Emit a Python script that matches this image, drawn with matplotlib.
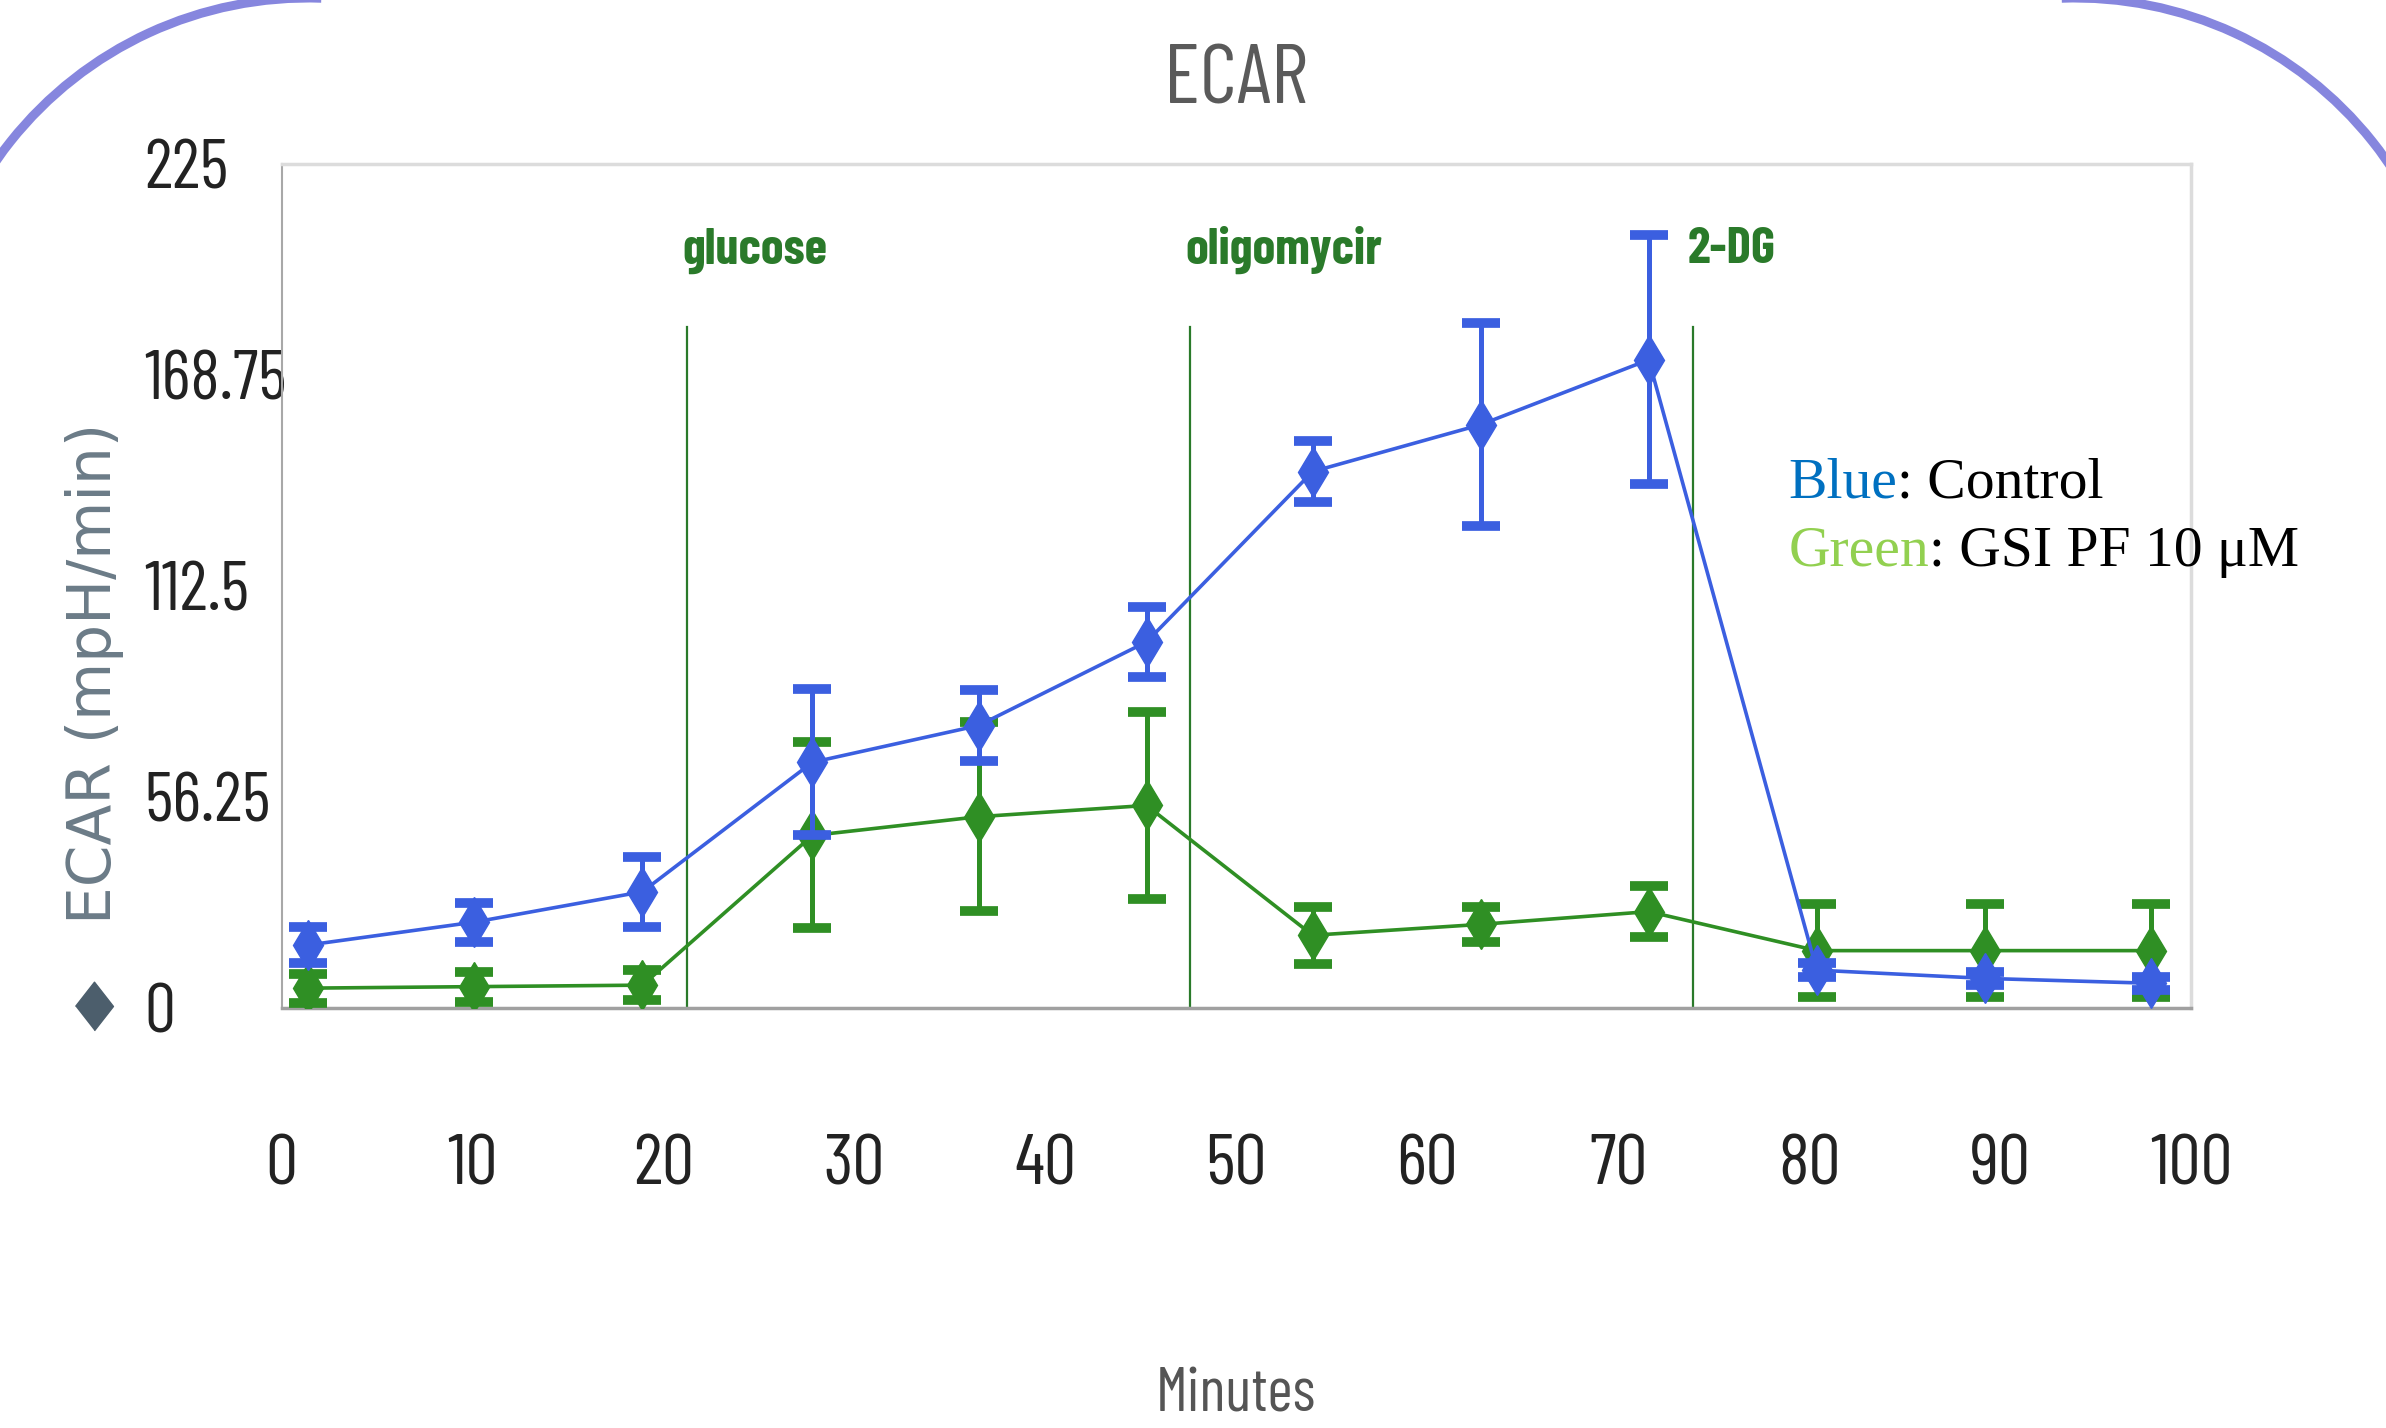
import matplotlib
matplotlib.use("Agg")
import matplotlib.pyplot as plt
from matplotlib.patches import Arc

# ECAR trace, mean +/- error per measurement cycle
minutes = [1.4, 10.1, 18.9, 27.8, 36.5, 45.3, 54.0, 62.8, 71.6, 80.4, 89.2, 97.9]
control = [16.8, 22.9, 31.0, 65.5, 75.3, 97.6, 143.0, 155.5, 172.8, 10.1, 7.9, 6.6]
control_err = [4.8, 5.2, 9.3, 19.5, 9.5, 9.3, 8.2, 27.0, 33.2, 1.8, 1.8, 1.8]
gsi = [5.3, 5.7, 6.1, 46.0, 51.0, 54.0, 19.4, 22.3, 25.7, 15.3, 15.3, 15.3]
gsi_err = [3.9, 4.0, 4.0, 24.8, 25.2, 25.0, 7.6, 4.7, 6.8, 12.4, 12.4, 12.4]

injection_times = [21.25, 47.6, 73.9]
injection_names = ["glucose", "oligomycir", "2-DG"]

x_ticks = [0, 10, 20, 30, 40, 50, 60, 70, 80, 90, 100]
y_ticks = [0, 56.25, 112.5, 168.75, 225]
y_tick_labels = ["0", "56.25", "112.5", "168.75", "225"]

narrow = ["Barlow Condensed", "DejaVu Sans"]
serif = ["Liberation Serif", "DejaVu Serif"]
blue = "#3b5fe0"
green = "#2f8f24"
inj_green = "#2a7a2a"

fig = plt.figure(figsize=(23.86, 14.28), dpi=100)

# rounded frame corners behind everything, in pixel units (y down)
bg = fig.add_axes([0, 0, 1, 1], zorder=-1)
bg.set_xlim(0, 2386)
bg.set_ylim(1428, 0)
bg.axis("off")
bg.add_patch(Arc((308, 378), 760, 760, theta1=165, theta2=272, color="#8686de", lw=6.5))
bg.add_patch(Arc((2075, 378), 760, 760, theta1=268, theta2=375, color="#8686de", lw=6.5))

ax = fig.add_axes([0.118, 0.2941, 0.8003, 0.5911])
ax.set_facecolor("none")

for t in injection_times:
    ax.plot([t, t], [0, 181.5], color=inj_green, lw=1.6, zorder=1)
for t, name in zip(injection_times, injection_names):
    ax.text(t - 0.25, 198.5, name, color=inj_green, fontsize=37,
            fontweight="bold", family=narrow, ha="left", va="baseline")

ax.errorbar(minutes, gsi, yerr=gsi_err, color=green, lw=2.6, marker="d",
            ms=25, elinewidth=3.6, capsize=14, capthick=7, zorder=3)
ax.errorbar(minutes, control, yerr=control_err, color=blue, lw=2.6, marker="d",
            ms=25, elinewidth=3.6, capsize=14, capthick=7, zorder=4)

ax.set_xlim(0, 100)
ax.set_ylim(0, 225)
ax.set_xticks(x_ticks)
ax.set_xticklabels([str(v) for v in x_ticks], family=narrow, fontsize=52, color="#222222")
ax.set_yticks(y_ticks)
ax.set_yticklabels(y_tick_labels, family=narrow, fontsize=50, color="#222222")
for lab in ax.get_yticklabels():
    lab.set_ha("left")
ax.tick_params(axis="y", length=0, pad=99)
ax.tick_params(axis="x", length=0, pad=91)

ax.spines["left"].set_color("#a8a8a8")
ax.spines["left"].set_linewidth(1.5)
ax.spines["bottom"].set_color("#a0a0a0")
ax.spines["bottom"].set_linewidth(2.5)
for side in ["top", "right"]:
    ax.spines[side].set_color("#dcdcdc")
    ax.spines[side].set_linewidth(2.5)

ax.set_xlabel("Minutes", family=narrow, fontsize=44, color="#555555")
ax.xaxis.label.set_va("baseline")
ax.xaxis.set_label_coords(0.5, -0.4775)

ax.set_ylabel("ECAR (mpH/min)", family="DejaVu Sans", fontsize=43, color="#6b7b87")
ax.yaxis.label.set_va("center")
ax.yaxis.set_label_coords(-0.0982, 0.3966)
ax.plot([-0.0982], [0.0024], marker=[(-0.78, 0), (0, 1), (0.78, 0), (0, -1)],
        ms=35, color="#4c5e6c", transform=ax.transAxes, clip_on=False)

fig.text(0.518, 1 - 103.5 / 1428, "ECAR", family=narrow, fontsize=60,
         color="#5a5a5a", ha="center", va="baseline")

# colour key
k1 = ax.text(0.789, 0.6047, "Blue", transform=ax.transAxes, family=serif,
             fontsize=41.5, color="#0070c0", va="baseline", ha="left")
ax.annotate(": Control", xy=(1, 0), xycoords=k1, family=serif, fontsize=41.5,
            color="black", va="bottom", ha="left")
k2 = ax.text(0.789, 0.5237, "Green", transform=ax.transAxes, family=serif,
             fontsize=41.5, color="#92d050", va="baseline", ha="left")
ax.annotate(": GSI PF 10 \u03bcM", xy=(1, 0), xycoords=k2, family=serif, fontsize=41.5,
            color="black", va="bottom", ha="left", annotation_clip=False)

fig.savefig("out.png", dpi=100)
